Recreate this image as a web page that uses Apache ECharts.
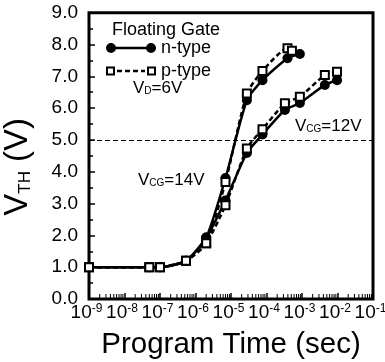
<!DOCTYPE html>
<html><head><meta charset="utf-8">
<script src="https://cdn.jsdelivr.net/npm/echarts@6/dist/echarts.min.js"></script>
<style>html,body{margin:0;padding:0;background:#fff}#c{width:385px;height:362px}</style>
</head><body><div id="c"></div>
<script>
const FONT = '"Liberation Sans", Arial, Helvetica, sans-serif';

// Program time (sec) and threshold voltage (V)
const time14n = [1e-9, 5e-8, 1e-7, 5.4e-7, 2e-6, 7e-6, 2.8e-5, 7.7e-5, 3.9e-4, 8.7e-4];
const vth14n  = [1.0, 1.0, 1.0, 1.2, 1.93, 3.8, 6.25, 6.88, 7.57, 7.7];
const time14p = [1e-9, 5e-8, 1e-7, 5.4e-7, 2e-6, 7e-6, 2.8e-5, 7.7e-5, 3.9e-4, 5.2e-4];
const vth14p  = [1.0, 1.0, 1.0, 1.2, 1.75, 3.68, 6.46, 7.17, 7.88, 7.8];
const time12  = [1e-9, 5e-8, 1e-7, 5.4e-7, 2e-6, 7e-6, 2.8e-5, 7.7e-5, 3.3e-4, 8.7e-4, 4.4e-3, 9.7e-3];
const vth12n  = [1.0, 1.0, 1.0, 1.2, 1.93, 3.1, 4.59, 5.17, 5.94, 6.16, 6.73, 6.88];
const vth12p  = [1.0, 1.0, 1.0, 1.2, 1.75, 2.95, 4.73, 5.34, 6.15, 6.36, 7.04, 7.14];
const refLine = 5.0;

const xDecades = [-9, -8, -7, -6, -5, -4, -3, -2, -1];
const yTickLabels = ['0.0','1.0','2.0','3.0','4.0','5.0','6.0','7.0','8.0','9.0'];
const minorMultipliers = [2, 3, 4, 5, 6, 7, 8, 9];
const minorTicks = [];
xDecades.slice(0, -1).forEach(e => minorMultipliers.forEach(m => minorTicks.push(m * Math.pow(10, e))));

const zip = (xs, ys) => xs.map((x, i) => [x, ys[i]]);

const nStyle = {
  type: 'line', symbol: 'circle', symbolSize: 10, smooth: 0.2, z: 3,
  lineStyle: { color: '#000', width: 2.5 }, itemStyle: { color: '#000' }
};
const pStyle = {
  type: 'line', symbol: 'rect', symbolSize: 8, smooth: 0.2, z: 4,
  lineStyle: { color: '#000', width: 2.5, type: [5, 3] },
  itemStyle: { color: '#fff', borderColor: '#000', borderWidth: 2 }
};

const subRich = {
  v: { fontFamily: FONT, fontSize: 17, lineHeight: 17, color: '#000' },
  s: { fontFamily: FONT, fontSize: 10, lineHeight: 10, color: '#000', verticalAlign: 'bottom' }
};

const chart = echarts.init(document.getElementById('c'), null, { renderer: 'canvas' });
chart.setOption({
  animation: false,
  backgroundColor: '#fff',
  grid: { left: 89, right: 12, top: 12.7, bottom: 63, containLabel: false, outerBoundsMode: 'none',
          show: true, borderColor: '#000', borderWidth: 3, backgroundColor: 'transparent' },
  xAxis: {
    type: 'log', logBase: 10, min: 1e-9, max: 1e-1, splitNumber: 8,
    axisLine: { show: false },
    axisTick: { show: true, inside: true, length: 6, lineStyle: { color: '#000', width: 1.5 } },
    splitLine: { show: false },
    axisLabel: {
      margin: 4, hideOverlap: false,
      formatter: v => '{b|10}{s|' + Math.round(Math.log10(v)) + '}{p| }',
      rich: {
        b: { fontFamily: FONT, fontSize: 19, lineHeight: 20, color: '#000' },
        s: { fontFamily: FONT, fontSize: 12, lineHeight: 12, color: '#000', verticalAlign: 'top' },
        p: { fontFamily: FONT, fontSize: 10, width: 5 }
      }
    },
    name: 'Program Time (sec)', nameLocation: 'middle', nameGap: 31,
    nameTextStyle: { fontFamily: FONT, fontSize: 29.5, color: '#000' }
  },
  yAxis: {
    type: 'value', min: 0, max: 9, interval: 1,
    axisLine: { show: false },
    axisTick: { show: true, inside: true, length: 6, lineStyle: { color: '#000', width: 1.5 } },
    minorTick: { show: true, splitNumber: 2, length: 4, lineStyle: { color: '#000', width: 1.5 } },
    splitLine: { show: false },
    axisLabel: { margin: 11, fontFamily: FONT, fontSize: 19, color: '#000', formatter: v => yTickLabels[Math.round(v)] },
    name: '{v|V}{s|TH}{v| (V)}', nameLocation: 'middle', nameGap: 55, nameRotate: 90,
    nameTextStyle: {
      padding: [0, 22, 0, 0],
      rich: {
        v: { fontFamily: FONT, fontSize: 33, lineHeight: 33, color: '#000' },
        s: { fontFamily: FONT, fontSize: 17, lineHeight: 17, color: '#000', verticalAlign: 'bottom' }
      }
    }
  },
  legend: {
    left: 106, top: 38, orient: 'vertical', padding: 0, itemGap: 3,
    itemWidth: 50, itemHeight: 10, selectedMode: false,
    textStyle: { fontFamily: FONT, fontSize: 18, lineHeight: 20, color: '#000' },
    data: [
      { name: 'n-type', icon: 'path://M0,5A5,5,0,1,1,10,5A5,5,0,1,1,0,5ZM5,3.75L45,3.75L45,6.25L5,6.25ZM40,5A5,5,0,1,1,50,5A5,5,0,1,1,40,5Z',
        itemStyle: { color: '#000', borderColor: '#000', borderWidth: 0 } },
      { name: 'p-type', icon: 'path://M0,0.5L9,0.5L9,9.5L0,9.5ZM2,2.5L2,7.5L7,7.5L7,2.5ZM11,3.75L16,3.75L16,6.25L11,6.25ZM19,3.75L24,3.75L24,6.25L19,6.25ZM27,3.75L32,3.75L32,6.25L27,6.25ZM35,3.75L39,3.75L39,6.25L35,6.25ZM41,0.5L50,0.5L50,9.5L41,9.5ZM43,2.5L43,7.5L48,7.5L48,2.5Z',
        itemStyle: { color: '#000', borderColor: '#000', borderWidth: 0 } }
    ]
  },
  graphic: [
    { type: 'text', x: 112, y: 30, style: { text: 'Floating Gate', font: '18px ' + FONT, fill: '#000', align: 'left', verticalAlign: 'middle' } },
    { type: 'text', x: 133, y: 88, style: { text: '{v|V}{s|D}{v|=6V}', rich: subRich, align: 'left', verticalAlign: 'middle' } },
    { type: 'text', x: 295, y: 126, style: { text: '{v|V}{s|CG}{v|=12V}', rich: subRich, align: 'left', verticalAlign: 'middle' } },
    { type: 'text', x: 138, y: 180, style: { text: '{v|V}{s|CG}{v|=14V}', rich: subRich, align: 'left', verticalAlign: 'middle' } }
  ],
  series: [
    Object.assign({ name: 'n-type', data: zip(time14n, vth14n),
      markLine: { silent: true, symbol: 'none', label: { show: false },
        lineStyle: { color: '#000', width: 1, type: [5, 3] }, data: [{ yAxis: refLine }] } }, nStyle),
    Object.assign({ name: 'n-type', data: zip(time12, vth12n) }, nStyle),
    Object.assign({ name: 'p-type', data: zip(time14p, vth14p) }, pStyle),
    Object.assign({ name: 'p-type', data: zip(time12, vth12p) }, pStyle),
    {
      type: 'custom', name: 'minorTicks', silent: true, z: 5,
      data: minorTicks.map(v => [v, 0]),
      encode: { x: 0, y: 1 },
      renderItem: (params, api) => {
        const p = api.coord([api.value(0), 0]);
        return { type: 'line', shape: { x1: p[0], y1: p[1], x2: p[0], y2: p[1] - 5 },
                 style: { stroke: '#000', lineWidth: 1 } };
      }
    }
  ]
});
</script></body></html>
